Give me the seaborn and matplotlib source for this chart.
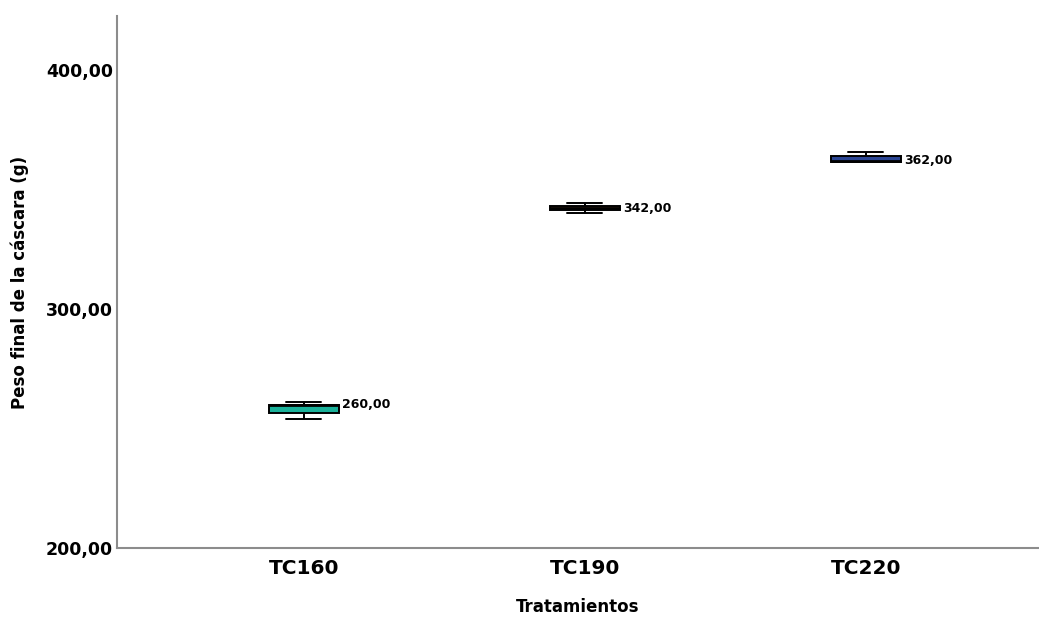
import pandas as pd
import matplotlib
matplotlib.use("Agg")
import matplotlib.pyplot as plt
import seaborn as sns
from matplotlib.ticker import FuncFormatter

# Data (final shell weight per treatment)
tratamientos = ["TC160", "TC190", "TC220"]
peso_tc160 = [254.0, 256.5, 260.0, 260.0, 261.0]
peso_tc190 = [340.0, 341.5, 342.0, 343.0, 344.5]
peso_tc220 = [361.5, 361.5, 362.0, 364.0, 365.5]
colores = ["#1BB19A", "#8B5A2B", "#2B4593"]

df = pd.DataFrame({
    "Tratamientos": ["TC160"] * len(peso_tc160) + ["TC190"] * len(peso_tc190) + ["TC220"] * len(peso_tc220),
    "Peso": peso_tc160 + peso_tc190 + peso_tc220,
})

sns.set_style("white")
plt.rcParams['font.family'] = ['DejaVu Sans']
plt.rcParams['text.color'] = 'black'
plt.rcParams['axes.labelcolor'] = 'black'
plt.rcParams['xtick.color'] = 'black'
plt.rcParams['ytick.color'] = 'black'

fig = plt.figure(figsize=(10.39, 6.19), dpi=100)
ax = fig.add_axes([0.1126, 0.1147, 0.8874, 0.8594])

sns.boxplot(data=df, x="Tratamientos", y="Peso", hue="Tratamientos",
            order=tratamientos, palette=colores, legend=False, saturation=1,
            width=0.25, whis=10, linewidth=1.4, linecolor="black",
            medianprops={"color": "black", "linewidth": 2.0},
            ax=ax)

# median labels to the right of each box
for i, t in enumerate(tratamientos):
    med = df.loc[df["Tratamientos"] == t, "Peso"].median()
    ax.text(i + 0.135, med, f"{med:.2f}".replace(".", ","),
            va="center", ha="left", fontsize=9, fontweight="bold", color="black")

ax.set_xlim(-0.665, 2.616)
ax.set_ylim(200, 422.5)
ax.set_yticks([200, 300, 400])
ax.yaxis.set_major_formatter(FuncFormatter(lambda v, p: f"{v:.2f}".replace(".", ",")))

ax.set_xlabel("Tratamientos", fontsize=12, fontweight="bold", labelpad=14)
ax.set_ylabel("Peso final de la cáscara (g)", fontsize=12, fontweight="bold", labelpad=12)
ax.tick_params(axis="x", labelsize=14.5, length=0, pad=8)
ax.tick_params(axis="y", labelsize=12.5, length=0, pad=3)
for lbl in ax.get_xticklabels() + ax.get_yticklabels():
    lbl.set_fontweight("bold")

for s in ["top", "right"]:
    ax.spines[s].set_visible(False)
for s in ["left", "bottom"]:
    ax.spines[s].set_color("#8c8c8c")
    ax.spines[s].set_linewidth(1.5)

plt.savefig("out.png", dpi=100)
